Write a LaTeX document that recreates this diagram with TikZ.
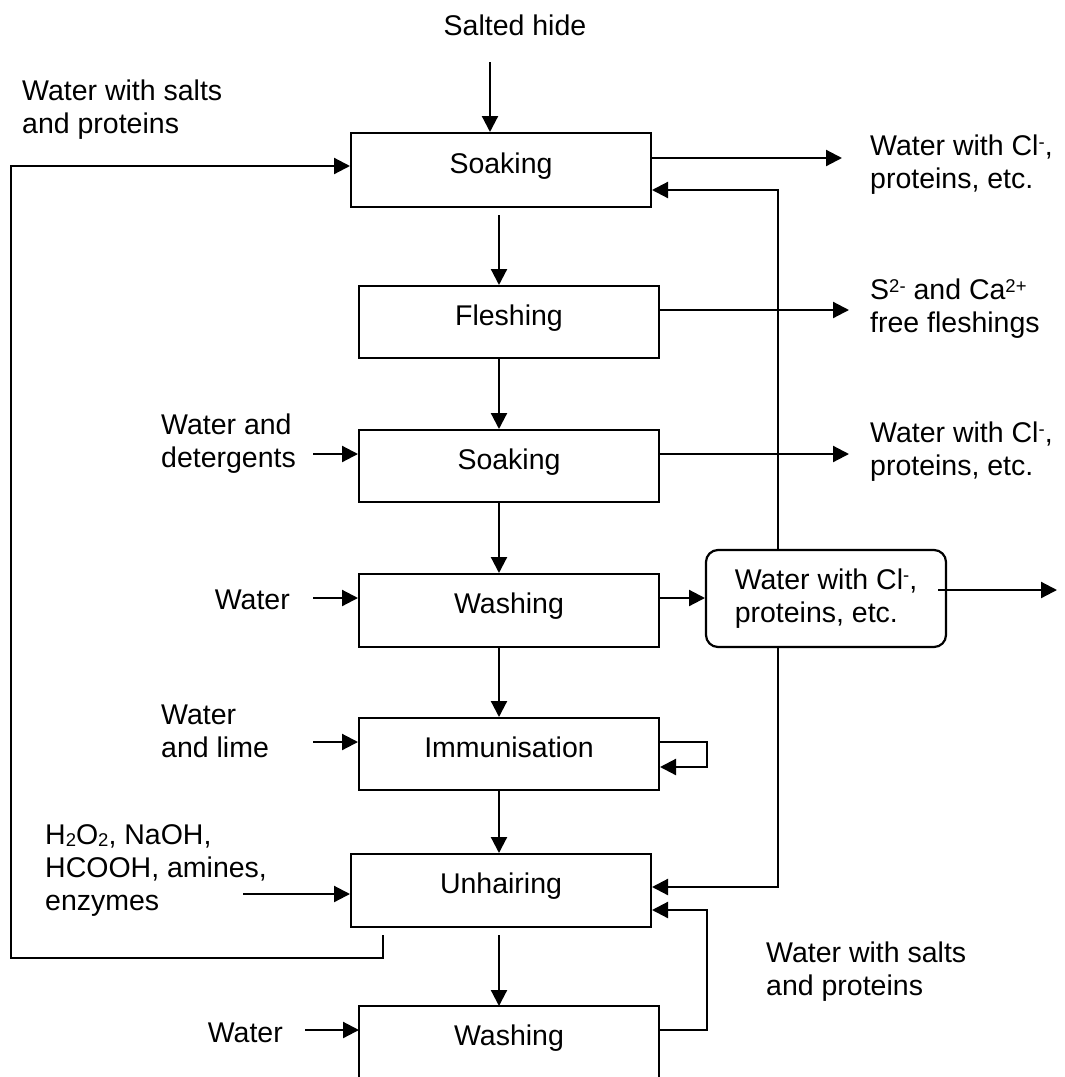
\documentclass[tikz,border=0pt]{standalone}
\usepackage{fontspec}
\setmainfont{Liberation Sans}
\usetikzlibrary{arrows.meta}
\newcommand\mysup[1]{\raisebox{0.27em}{\fontsize{18.5}{18.5}\selectfont #1}}
\newcommand\mysub[1]{\raisebox{-0.1em}{\fontsize{18.5}{18.5}\selectfont #1}}
\begin{document}
\begin{tikzpicture}[x=1pt,y=-1pt,
  font=\fontsize{28.5}{33}\selectfont,
  lw/.style={line width=2.2pt},
  arr/.style={lw,-{Triangle[length=16pt,width=16pt]}},
  box/.style={draw,lw,minimum width=300pt,inner sep=0pt,outer sep=1pt,text height=16pt,text depth=10pt},
  lbl/.style={align=left,inner sep=0pt,anchor=north west},
  lblr/.style={align=right,inner sep=0pt,anchor=north east},
]
\useasboundingbox (0,0) rectangle (1065,1077);

% process boxes
\node[box,minimum height=74pt] (s1) at (501,170) {Soaking};
\node[box,minimum height=72pt] (fl) at (509,322) {Fleshing};
\node[box,minimum height=72pt] (s2) at (509,466) {Soaking};
\node[box,minimum height=73pt] (w1) at (509,610.5) {Washing};
\node[box,minimum height=72pt] (im) at (509,754) {Immunisation};
\node[box,minimum height=73pt] (uh) at (501,890.5) {Unhairing};
\node[box,draw=none,outer sep=0pt,minimum height=72pt] (w2) at (509,1042) {Washing};
\draw[lw] (w2.south west) -- (w2.north west) -- (w2.north east) -- (w2.south east);

\node[draw,lw,rounded corners=12pt,minimum width=240pt,minimum height=97pt,
      align=left,inner sep=0pt,outer sep=1pt] (rb) at (826,598.5)
      {Water with Cl\mysup{-},\\proteins, etc.};

% labels
\node[inner sep=0pt,anchor=north] (sh) at (515,15) {Salted hide};
\node[lbl] (tl) at (22,80) {Water with salts\\and proteins};
\node[lbl] (o1) at (870,135) {Water with Cl\mysup{-},\\proteins, etc.};
\node[lbl] (o2) at (870,279) {S\mysup{2-} and Ca\mysup{2+}\\free fleshings};
\node[lbl] (o3) at (870,422) {Water with Cl\mysup{-},\\proteins, etc.};
\node[lbl] (i1) at (161,414) {Water and\\detergents};
\node[lblr] (i2) at (290,590) {Water};
\node[lbl] (i3) at (161,705) {Water\\and lime};
\node[lbl] (i4) at (45,824) {H\mysub{2}O\mysub{2}, NaOH,\\HCOOH, amines,\\enzymes};
\node[lblr] (i5) at (283,1023) {Water};
\node[lbl] (br) at (766,942) {Water with salts\\and proteins};

% helper coordinates
\coordinate (mx) at (499,0);
\coordinate (rx) at (778,0);

% main vertical flow
\coordinate (c0) at (490,62);
\draw[arr] (c0) -- (c0 |- s1.north);
\draw[arr,shorten <=7pt] (s1.south -| mx) -- (fl.north -| mx);
\draw[arr] (fl.south -| mx) -- (s2.north -| mx);
\draw[arr] (s2.south -| mx) -- (w1.north -| mx);
\draw[arr] (w1.south -| mx) -- (im.north -| mx);
\draw[arr] (im.south -| mx) -- (uh.north -| mx);
\draw[arr,shorten <=7pt] (uh.south -| mx) -- (w2.north -| mx);

% outputs to the right
\coordinate (e1) at (842,158);
\draw[arr] (s1.east |- e1) -- (e1);
\coordinate (e2) at (849,310);
\draw[arr] (fl.east |- e2) -- (e2);
\coordinate (e3) at (849,454);
\draw[arr] (s2.east |- e3) -- (e3);
\draw[arr] (w1.east |- 0,598) -- (rb.west |- 0,598);
\coordinate (e4) at (1057,590);
\draw[arr] (938,590) -- (e4);

% recycle from rounded box
\draw[arr] (rb.north -| rx) -- (778,190) -- (s1.east |- 0,190);
\draw[arr] (rb.south -| rx) -- (778,887) -- (uh.east |- 0,887);

% immunisation loop
\draw[arr] (im.east |- 0,742) -- (707,742) -- (707,767) -- (im.east |- 0,767);

% washing 2 back to unhairing
\draw[arr] (w2.east |- 0,1030) -- (707,1030) -- (707,910) -- (uh.east |- 0,910);

% left feedback loop
\coordinate (fb) at (383,0);
\draw[arr,shorten <=7pt] (uh.south -| fb) -- (383,958) -- (11,958) -- (11,166) -- (s1.west |- 0,166);

% inputs from the left
\draw[arr] (313,454) -- (s2.west |- 0,454);
\draw[arr] (313,598) -- (w1.west |- 0,598);
\draw[arr] (313,742) -- (im.west |- 0,742);
\draw[arr] (243,894) -- (uh.west |- 0,894);
\draw[arr] (305,1030) -- (w2.west |- 0,1030);
\end{tikzpicture}
\end{document}
